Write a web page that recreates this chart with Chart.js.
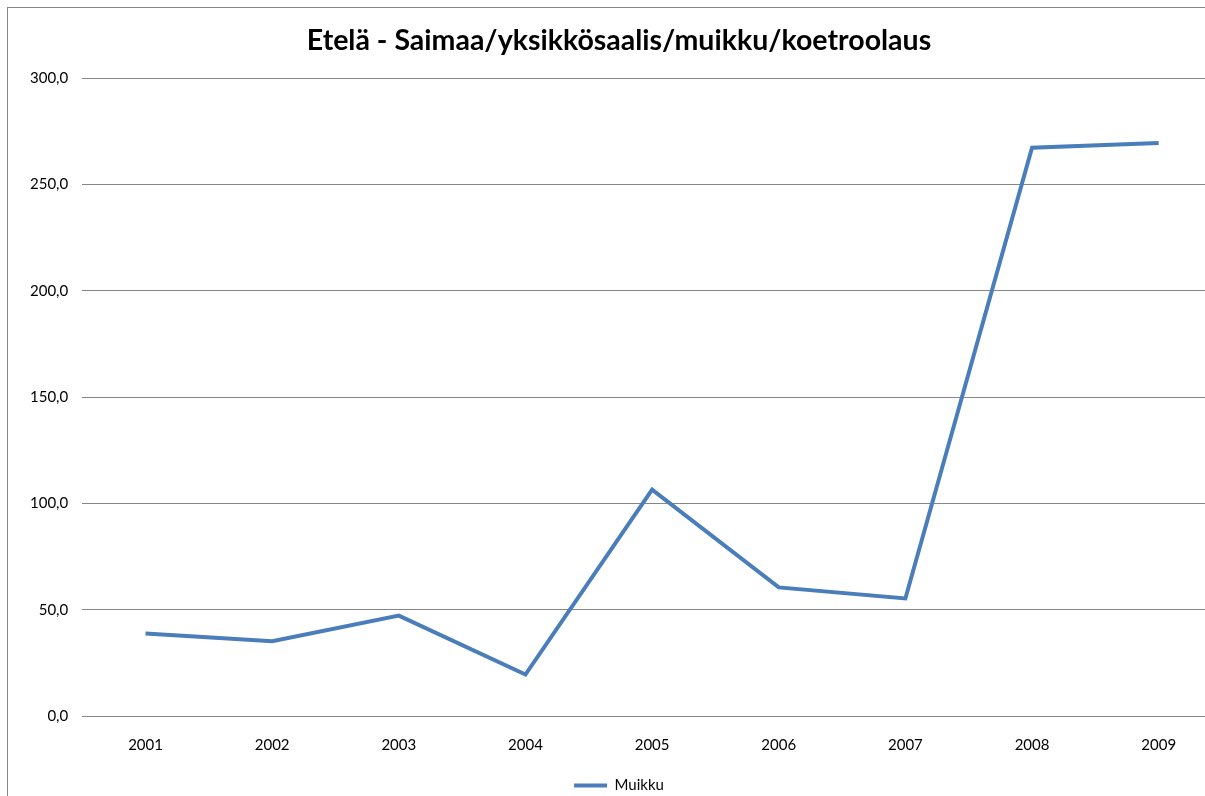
<!DOCTYPE html>
<html>
<head>
    <meta charset="utf-8">
    <title>Etelä - Saimaa</title>
    <script src="https://cdn.jsdelivr.net/npm/chart.js"></script>
    <style>
        html, body { margin: 0; overflow: hidden; background: #fff; }
        #clip {
            position: absolute; left: 0; top: 0;
            width: 1205px; height: 796px; overflow: hidden;
        }
        #frame {
            position: absolute; left: 7px; top: 7px;
            width: 1236px; height: 800px;
            border-left: 1px solid #868686; border-top: 1px solid #868686;
            background: #fff;
        }
    </style>
</head>
<body>
    <div id="clip"><div id="frame"><canvas id="chart" width="1236" height="800"></canvas></div></div>

    <script>
    const years = ['2001', '2002', '2003', '2004', '2005', '2006', '2007', '2008', '2009'];
    const muikku = [38.8, 35.2, 47.2, 19.5, 106.5, 60.5, 55.3, 267.3, 269.5];

    const font = 'Lato, "Open Sans", sans-serif';
    const ctx = document.getElementById('chart').getContext('2d');

    new Chart(ctx, {
        type: 'line',
        data: {
            labels: years,
            datasets: [{
                label: 'Muikku',
                data: muikku,
                borderColor: '#4A7EBB',
                backgroundColor: '#4A7EBB',
                borderWidth: 4,
                pointRadius: 0,
                tension: 0
            }]
        },
        options: {
            responsive: false,
            animation: false,
            layout: { padding: { left: 8, right: 22, top: 0, bottom: 5 } },
            plugins: {
                title: {
                    display: true,
                    text: 'Etelä - Saimaa/yksikkösaalis/muikku/koetroolaus',
                    color: '#000',
                    font: { family: font, size: 28.5, weight: 'bold' },
                    padding: { top: 16, bottom: 20 }
                },
                legend: {
                    position: 'bottom',
                    labels: {
                        color: '#000',
                        font: { family: font, size: 15 },
                        usePointStyle: true,
                        pointStyle: 'line',
                        pointStyleWidth: 33,
                        padding: 12
                    }
                },
                tooltip: { enabled: false }
            },
            scales: {
                x: {
                    offset: true,
                    grid: { display: false },
                    border: { display: false },
                    ticks: { color: '#000', font: { family: font, size: 15 }, padding: 12 }
                },
                y: {
                    min: 0,
                    max: 300,
                    grid: { color: '#868686', lineWidth: 1, drawTicks: false },
                    border: { display: false },
                    ticks: {
                        stepSize: 50,
                        color: '#000',
                        font: { family: font, size: 15 },
                        padding: 14,
                        callback: v => v.toFixed(1).replace('.', ',')
                    }
                }
            }
        }
    });
    </script>
</body>
</html>
